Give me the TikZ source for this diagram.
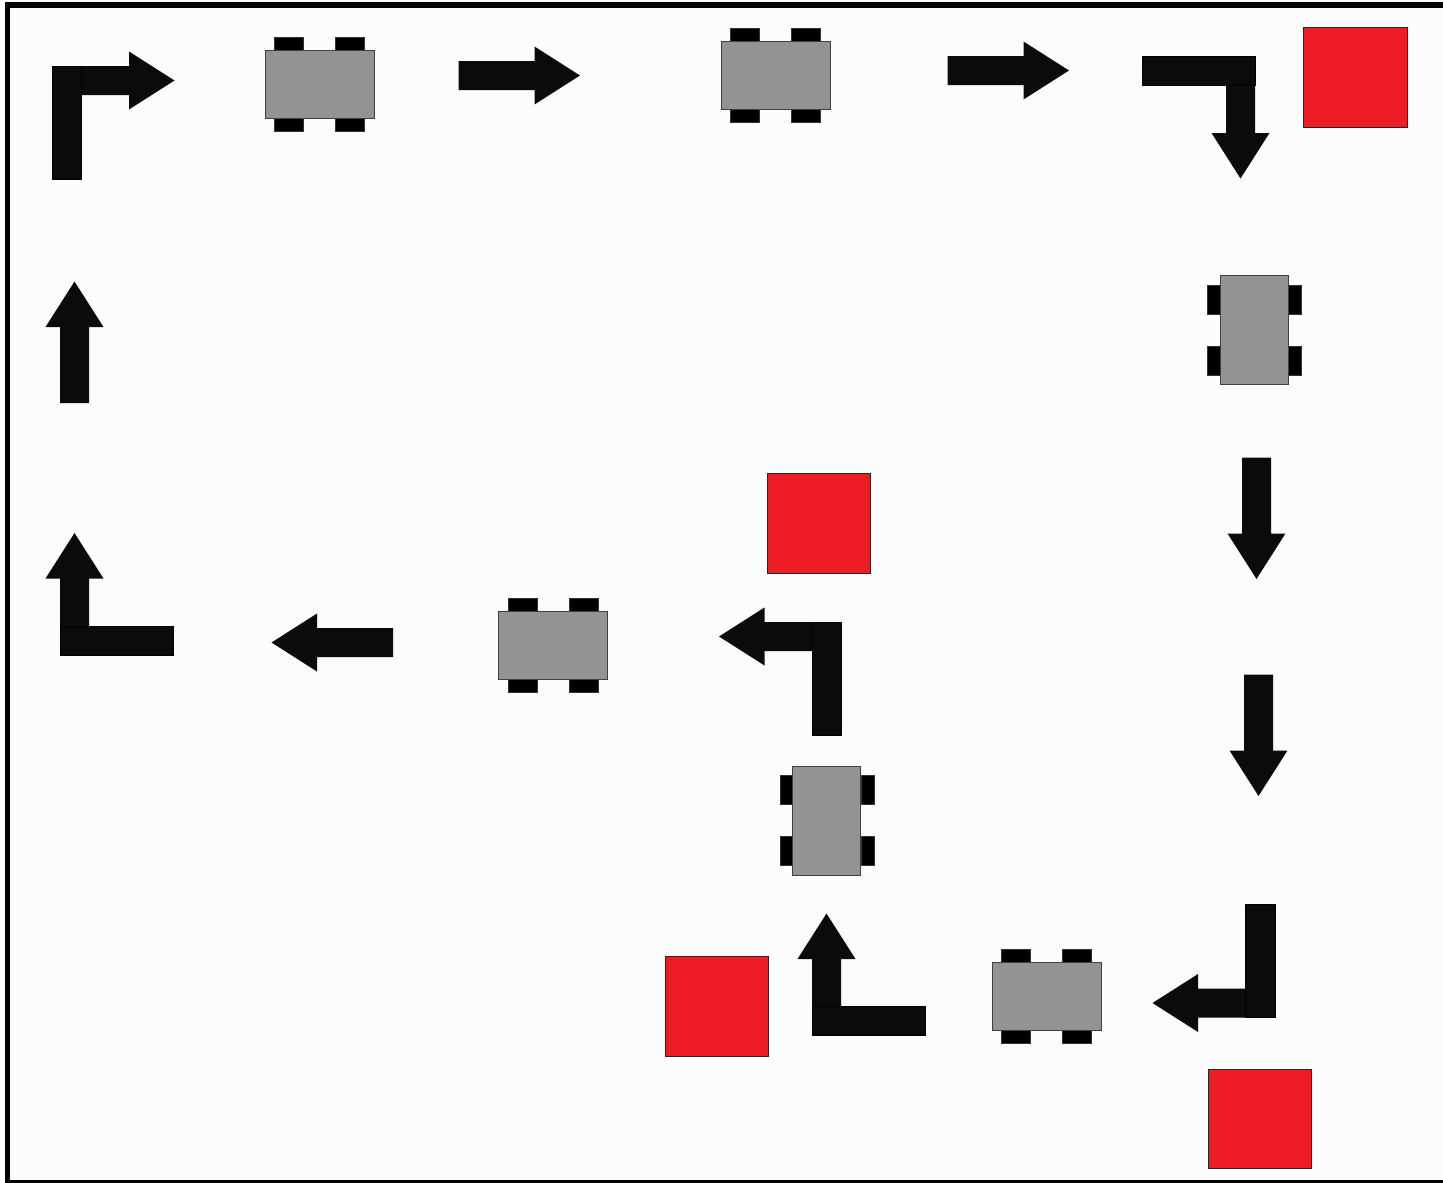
\documentclass[tikz,border=0pt]{standalone}
\definecolor{paper}{HTML}{FBFDFC}
\definecolor{ink}{HTML}{0B0B0B}
\definecolor{body}{HTML}{949391}
\definecolor{blockred}{HTML}{EE1C25}
\tikzset{
  x=1pt,y=-1pt,
  inkfill/.style={fill=ink,draw=black,line width=0.2pt},
  wheel/.style={fill=black,draw=black!80,line width=0.2pt},
  carbody/.style={fill=body,draw=black!75,line width=0.8pt},
  block/.style={fill=blockred,draw=black!85,line width=0.8pt},
  pics/arrowshape/.style={code={
    \fill[ink] (0,-14.5) -- (#1,-14.5) -- (#1,-29) -- (#1+45.5,0) -- (#1,29) -- (#1,14.5) -- (0,14.5) -- cycle;
  }},
  pics/carshape/.style={code={
    \foreach \wx in {-30.5,30.5}{
      \draw[wheel] (\wx-14.5,-47) rectangle (\wx+14.5,-34);
      \draw[wheel] (\wx-14.5,34) rectangle (\wx+14.5,47);
    }
    \draw[carbody] (-54.5,-34) rectangle (54.5,34);
  }},
}
\begin{document}
\begin{tikzpicture}
\useasboundingbox (0,0) rectangle (1443,1183);
\fill[white] (0,0) rectangle (1443,1183);
\fill[paper] (7,5) rectangle (1443,1181);
% frame
\fill[black] (5,2) rectangle (1443,8);
\fill[black] (5,2) rectangle (10,1183);
\fill[black] (5,1179.5) rectangle (1443,1183);
% straight arrows
\path (458.5,75.5) pic{arrowshape=76};
\path (947.5,70.5) pic{arrowshape=76};
\path (1256.5,457.5) pic[rotate=270]{arrowshape=76};
\path (1258.5,674.5) pic[rotate=270]{arrowshape=76};
\path (393,642.5) pic[rotate=180]{arrowshape=76};
\path (74.5,403) pic[rotate=90]{arrowshape=76};
% elbow arrows
\path (81,80.5) pic{arrowshape=48};
\draw[inkfill] (52,66) rectangle (81,179);
\path (1240.5,85) pic[rotate=270]{arrowshape=48};
\draw[inkfill] (1142,56) rectangle (1255,85);
\path (1245.5,1003) pic[rotate=180]{arrowshape=47.5};
\draw[inkfill] (1245.5,904.5) rectangle (1275,1017);
\path (826.5,1006) pic[rotate=90]{arrowshape=47};
\draw[inkfill] (812,1006) rectangle (925,1035);
\path (812,636.5) pic[rotate=180]{arrowshape=47.5};
\draw[inkfill] (812,622) rectangle (841,735);
\path (74.5,626) pic[rotate=90]{arrowshape=47.5};
\draw[inkfill] (60,626) rectangle (173,655);
% cars
\path (319.5,84) pic{carshape};
\path (775.5,75) pic{carshape};
\path (553,645) pic{carshape};
\path (1046.5,996.5) pic{carshape};
\path (1254,329.8) pic[rotate=90]{carshape};
\path (826.7,820.5) pic[rotate=90]{carshape};
% red blocks
\draw[block] (1303.5,27.5) rectangle (1407.5,127.5);
\draw[block] (767.5,473.5) rectangle (870.7,573.5);
\draw[block] (665,956.5) rectangle (768.7,1056.5);
\draw[block] (1208,1069) rectangle (1311.7,1168.7);
\end{tikzpicture}
\end{document}
